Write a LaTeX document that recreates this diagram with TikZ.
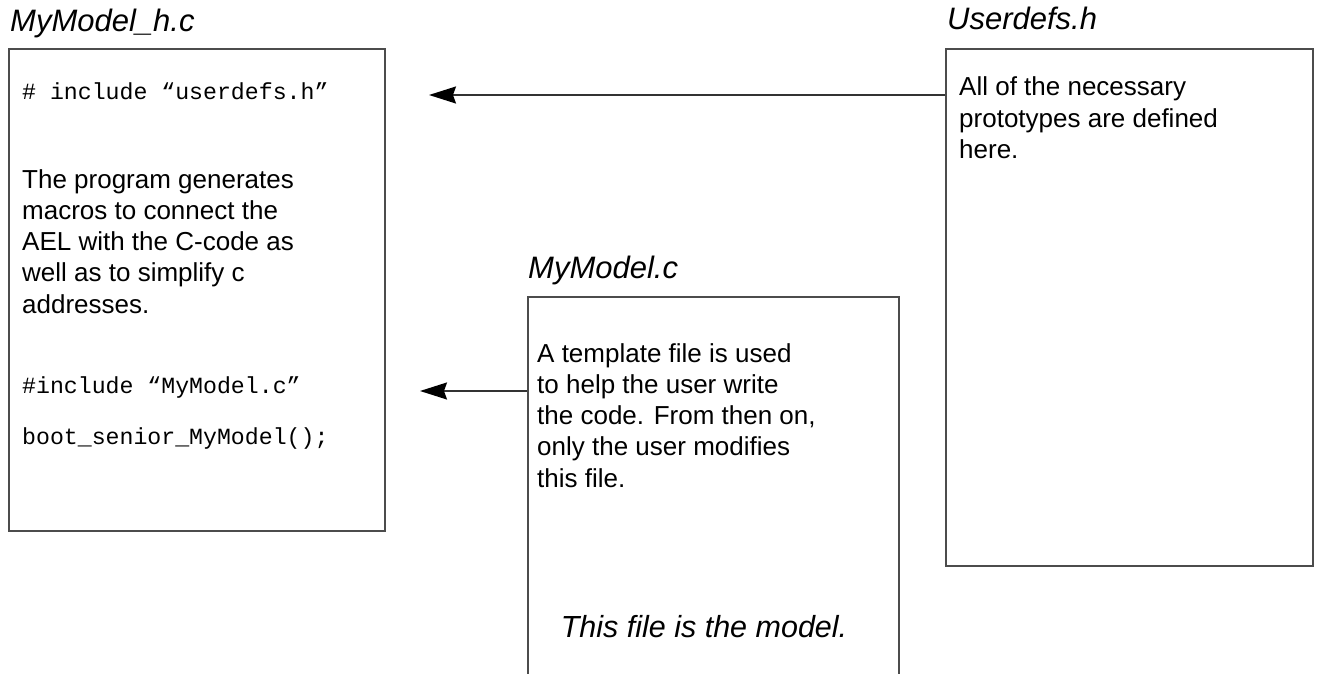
\documentclass[tikz,border=0pt]{standalone}
\usepackage{fontspec}
\setmainfont{Liberation Sans}
\newfontfamily\monof{Liberation Mono}
\usetikzlibrary{arrows.meta}
\newcommand\mylines[1]{\vtop{\halign{##\hfil\cr#1\crcr}}}
\begin{document}
\begin{tikzpicture}[x=1pt,y=-1pt,
  filebox/.style={draw=black!70,line width=2pt,inner sep=0pt,anchor=north west},
  title/.style={anchor=base west,inner sep=0pt,font=\fontsize{31}{34}\selectfont\itshape},
  body/.style={anchor=base west,inner sep=0pt,font=\fontsize{26}{31.3}\selectfont},
  code/.style={anchor=base west,inner sep=0pt,font=\fontsize{23.2}{27}\selectfont\monof},
  arr/.style={line width=1.5pt,draw=black!80,-{Stealth[length=27pt,width=17pt,inset=3pt,fill=black,color=black]}}]
\useasboundingbox (0,0) rectangle (1322,674);
\clip (0,0) rectangle (1322,674);
\fill[white] (0,0) rectangle (1322,674);
% boxes
\node[filebox,minimum width=376pt,minimum height=482pt] (hc) at (8,48) {};
\node[filebox,minimum width=367pt,minimum height=517pt] (ud) at (945,48) {};
\node[filebox,minimum width=371pt,minimum height=420pt] (mc) at (527,296) {};
% titles
\node[title] (thc) at (10,32) {MyModel\_h.c};
\node[title] (tud) at (947,30) {Userdefs.h};
\node[title] (tmc) at (528,278) {MyModel.c};
% box 1 content
\node[code] (inc1) at (22,100) {\# include “userdefs.h”};
\node[body] (b1) at (22,188) {\mylines{The program generates\cr macros to connect the\cr AEL with the C-code as\cr well as to simplify c\cr addresses.}};
\node[code] (inc2) at (22,393) {\#include “MyModel.c”};
\node[code] (boot) at (22,444) {boot\_senior\_MyModel();};
% box 2 content
\node[body] (b2) at (959,96) {\mylines{All of the necessary\cr prototypes are defined\cr here.}};
% box 3 content
\node[body] (b3) at (537,362) {\mylines{A template file is used\cr to help the user write\cr the code. From then on,\cr only the user modifies\cr this file.}};
\node[anchor=base,inner sep=0pt,font=\fontsize{30.5}{34}\selectfont\itshape] (model) at (704,637) {This file is the model.};
% arrows
\coordinate (t1) at (429,95);
\coordinate (t2) at (420,391);
\draw[arr] (ud.west |- t1) -- (t1);
\draw[arr] (mc.west |- t2) -- (t2);
\end{tikzpicture}
\end{document}
